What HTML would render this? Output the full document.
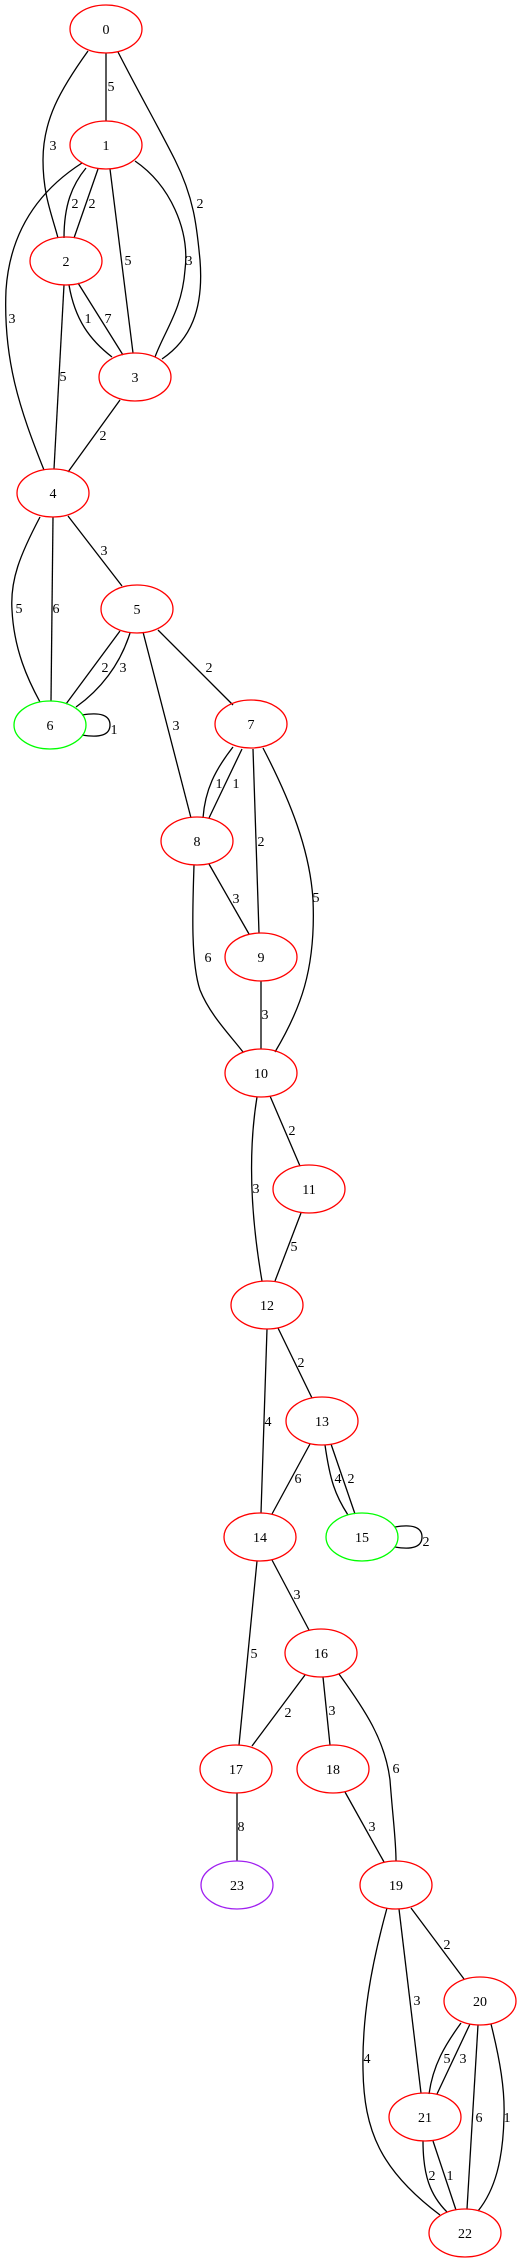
<!DOCTYPE html>
<html><head><meta charset="utf-8"><style>
html,body{margin:0;padding:0;background:#fff;}
svg{display:block;}
text{font-family:"Liberation Serif",serif;font-size:14px;fill:#000;text-anchor:middle;}
.e{fill:none;stroke:#000;stroke-width:1.3;}
.n{fill:none;stroke:#f00;stroke-width:1.3;}
</style></head><body>
<svg width="521" height="2263" viewBox="0 0 521 2263" xmlns="http://www.w3.org/2000/svg">
<g>
<path class="e" d="M106,53 L106,121"/>
<path class="e" d="M88,51 C60,90 43,120 43,160 C43,195 52,215 58,238"/>
<path class="e" d="M118,52 C140,95 160,130 175,160 C195,200 197,230 200,260 C204,310 190,340 162,359"/>
<path class="e" d="M86,168 C72,185 64,205 64,238"/>
<path class="e" d="M98,169 L74,238"/>
<path class="e" d="M82,163 C40,190 10,230 6,290 C3,360 20,410 44,470"/>
<path class="e" d="M110,169 L133,353"/>
<path class="e" d="M135,161 C170,185 190,230 185,270 C182,310 165,330 155,357"/>
<path class="e" d="M69,285 C75,320 90,340 112,357"/>
<path class="e" d="M78,283 L123,355"/>
<path class="e" d="M64,285 L54,469"/>
<path class="e" d="M120,400 L68,472"/>
<path class="e" d="M68,516 L122,586"/>
<path class="e" d="M40,517 C20,555 10,580 12,610 C14,650 28,680 40,702"/>
<path class="e" d="M53,517 L51,701"/>
<path class="e" d="M120,631 L66,704"/>
<path class="e" d="M130,633 C120,665 100,690 76,707"/>
<path class="e" d="M143,632 L191,818"/>
<path class="e" d="M158,630 L233,705"/>
<path class="e" d="M82,715 C100,712 110,715 110,725 C110,735 100,738 82,735"/>
<path class="e" d="M233,747 C215,770 205,790 203,818"/>
<path class="e" d="M242,749 L209,818"/>
<path class="e" d="M253,749 L259,933"/>
<path class="e" d="M263,748 C290,800 310,850 313,900 C316,970 300,1010 275,1052"/>
<path class="e" d="M209,864 L249,934"/>
<path class="e" d="M194,865 C193,900 190,960 200,990 C210,1015 230,1035 243,1052"/>
<path class="e" d="M261,981 L261,1049"/>
<path class="e" d="M270,1096 L300,1166"/>
<path class="e" d="M257,1097 C250,1140 248,1200 262,1281"/>
<path class="e" d="M301,1213 L275,1281"/>
<path class="e" d="M278,1328 L312,1398"/>
<path class="e" d="M267,1329 L261,1513"/>
<path class="e" d="M310,1444 L272,1514"/>
<path class="e" d="M325,1445 C330,1480 335,1495 348,1515"/>
<path class="e" d="M331,1444 L355,1514"/>
<path class="e" d="M395,1527 C412,1524 422,1527 422,1537 C422,1547 412,1550 395,1547"/>
<path class="e" d="M272,1560 L309,1630"/>
<path class="e" d="M257,1561 L239,1745"/>
<path class="e" d="M305,1675 L252,1746"/>
<path class="e" d="M323,1677 L330,1745"/>
<path class="e" d="M339,1674 C365,1710 385,1740 390,1780 C393,1820 396,1840 396,1861"/>
<path class="e" d="M345,1792 L384,1862"/>
<path class="e" d="M237,1793 L237,1861"/>
<path class="e" d="M411,1908 L464,1979"/>
<path class="e" d="M399,1909 L421,2093"/>
<path class="e" d="M387,1908 C370,1970 362,2020 363,2070 C364,2130 380,2170 440,2215"/>
<path class="e" d="M461,2023 C445,2045 433,2065 429,2094"/>
<path class="e" d="M470,2024 L437,2094"/>
<path class="e" d="M478,2025 L467,2209"/>
<path class="e" d="M491,2024 C500,2060 505,2090 504,2117 C503,2160 495,2190 478,2211"/>
<path class="e" d="M423,2141 C423,2175 430,2195 447,2212"/>
<path class="e" d="M433,2141 L456,2210"/>
</g>
<g>
<text x="111" y="91">5</text>
<text x="53" y="150">3</text>
<text x="200" y="208">2</text>
<text x="75" y="208">2</text>
<text x="92" y="208">2</text>
<text x="12" y="323">3</text>
<text x="128" y="265">5</text>
<text x="189" y="265">3</text>
<text x="88" y="323">1</text>
<text x="108" y="323">7</text>
<text x="63" y="381">5</text>
<text x="103" y="440">2</text>
<text x="104" y="555">3</text>
<text x="19" y="613">5</text>
<text x="56" y="613">6</text>
<text x="105" y="672">2</text>
<text x="123" y="672">3</text>
<text x="176" y="730">3</text>
<text x="209" y="672">2</text>
<text x="114" y="734">1</text>
<text x="219" y="788">1</text>
<text x="236" y="788">1</text>
<text x="261" y="846">2</text>
<text x="316" y="902">5</text>
<text x="236" y="903">3</text>
<text x="208" y="962">6</text>
<text x="265" y="1019">3</text>
<text x="292" y="1135">2</text>
<text x="256" y="1193">3</text>
<text x="294" y="1251">5</text>
<text x="301" y="1367">2</text>
<text x="268" y="1426">4</text>
<text x="298" y="1483">6</text>
<text x="338" y="1483">4</text>
<text x="351" y="1483">2</text>
<text x="426" y="1546">2</text>
<text x="297" y="1599">3</text>
<text x="254" y="1658">5</text>
<text x="288" y="1717">2</text>
<text x="332" y="1715">3</text>
<text x="396" y="1773">6</text>
<text x="372" y="1831">3</text>
<text x="241" y="1831">8</text>
<text x="447" y="1949">2</text>
<text x="417" y="2005">3</text>
<text x="367" y="2063">4</text>
<text x="447" y="2063">5</text>
<text x="463" y="2063">3</text>
<text x="479" y="2122">6</text>
<text x="507" y="2122">1</text>
<text x="432" y="2180">2</text>
<text x="450" y="2180">1</text>
</g>
<g>
<ellipse class="n" cx="106" cy="29" rx="36" ry="24"/><text x="106" y="34">0</text>
<ellipse class="n" cx="106" cy="145" rx="36" ry="24"/><text x="106" y="150">1</text>
<ellipse class="n" cx="66" cy="261" rx="36" ry="24"/><text x="66" y="266">2</text>
<ellipse class="n" cx="135" cy="377" rx="36" ry="24"/><text x="135" y="382">3</text>
<ellipse class="n" cx="53" cy="493" rx="36" ry="24"/><text x="53" y="498">4</text>
<ellipse class="n" cx="137" cy="609" rx="36" ry="24"/><text x="137" y="614">5</text>
<ellipse class="n" style="stroke:#0f0" cx="50" cy="725" rx="36" ry="24"/><text x="50" y="730">6</text>
<ellipse class="n" cx="251" cy="724" rx="36" ry="24"/><text x="251" y="729">7</text>
<ellipse class="n" cx="197" cy="841" rx="36" ry="24"/><text x="197" y="846">8</text>
<ellipse class="n" cx="261" cy="957" rx="36" ry="24"/><text x="261" y="962">9</text>
<ellipse class="n" cx="261" cy="1073" rx="36" ry="24"/><text x="261" y="1078">10</text>
<ellipse class="n" cx="309" cy="1189" rx="36" ry="24"/><text x="309" y="1194">11</text>
<ellipse class="n" cx="267" cy="1305" rx="36" ry="24"/><text x="267" y="1310">12</text>
<ellipse class="n" cx="322" cy="1421" rx="36" ry="24"/><text x="322" y="1426">13</text>
<ellipse class="n" cx="260" cy="1537" rx="36" ry="24"/><text x="260" y="1542">14</text>
<ellipse class="n" style="stroke:#0f0" cx="362" cy="1537" rx="36" ry="24"/><text x="362" y="1542">15</text>
<ellipse class="n" cx="321" cy="1653" rx="36" ry="24"/><text x="321" y="1658">16</text>
<ellipse class="n" cx="236" cy="1769" rx="36" ry="24"/><text x="236" y="1774">17</text>
<ellipse class="n" cx="333" cy="1769" rx="36" ry="24"/><text x="333" y="1774">18</text>
<ellipse class="n" cx="396" cy="1885" rx="36" ry="24"/><text x="396" y="1890">19</text>
<ellipse class="n" cx="480" cy="2001" rx="36" ry="24"/><text x="480" y="2006">20</text>
<ellipse class="n" cx="425" cy="2117" rx="36" ry="24"/><text x="425" y="2122">21</text>
<ellipse class="n" cx="465" cy="2233" rx="36" ry="24"/><text x="465" y="2238">22</text>
<ellipse class="n" style="stroke:#a020f0" cx="237" cy="1885" rx="36" ry="24"/><text x="237" y="1890">23</text>
</g>
</svg>
</body></html>
